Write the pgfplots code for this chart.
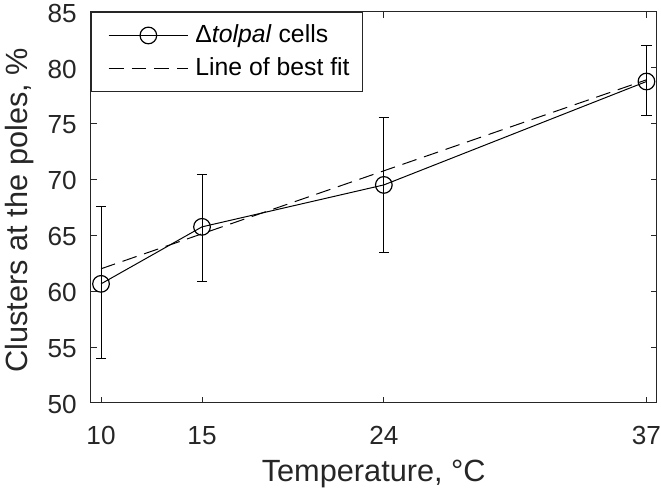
\documentclass[border=0pt]{standalone}
\usepackage{fontspec}
\setmainfont{Liberation Sans}
\usepackage{pgfplots}
\usepackage{pgfplotstable}
\pgfplotsset{compat=1.18}
\definecolor{axgray}{HTML}{262626}
\pgfplotstableread{
x  y      ep    em
10 60.65  6.95  6.70
15 65.75  4.70  4.85
24 69.50  6.05  6.00
37 78.75  3.25  3.05
}\cells
\pgfplotstableread{
x  y
10 62.0
37 78.9
}\fit
\begin{document}
\begin{tikzpicture}
\begin{axis}[
  scale only axis, width=285.5pt, height=197.5pt,
  xmin=9.5, xmax=37.5, ymin=50, ymax=85,
  xtick={10,15,24,37}, ytick={50,55,...,85},
  tick align=inside, major tick length=3pt,
  axis line style={axgray, line width=0.5pt},
  every tick/.style={axgray, line width=0.5pt},
  tick label style={font=\fontsize{13.2}{15}\selectfont, text=axgray, inner sep=0pt},
  /pgf/number format/assume math mode=true,
  xticklabel style={yshift=-11.5pt},
  yticklabel style={xshift=-7pt, inner ysep=2pt, yshift=-0.8pt},
  xlabel={Temperature, °C}, ylabel={Clusters at the poles, \%},
  label style={font=\fontsize{15.5}{18}\selectfont, text=axgray, inner sep=0pt},
  xlabel style={at={(axis description cs:0.5,-0.2)}, anchor=base},
  ylabel style={at={(axis description cs:-0.0919,0.505)}, anchor=south, inner ysep=2.5pt, xshift=-2.5pt},
  legend cell align=left,
  legend image code/.code={\path (-4pt,0pt) (41.5pt,0pt); \draw[mark repeat=2,mark phase=2,#1] plot coordinates {(0pt,0pt) (20pt,0pt) (40pt,0pt)};},
  legend style={at={(0,1)}, anchor=north west, draw=axgray, line width=0.5pt,
    font=\fontsize{12.5}{15}\selectfont, text=black, inner xsep=4.5pt, inner ysep=4.5pt, row sep=2pt},
]
\addplot[black, line width=0.5pt, mark=o, mark size=4.2pt, mark options={solid, line width=0.6pt},
  error bars/.cd, y dir=both, y explicit,
  error bar style={line width=0.5pt, solid},
  error mark options={rotate=90, mark size=2.6pt, line width=0.5pt}]
  table[x=x, y=y, y error plus=ep, y error minus=em] {\cells};
\addlegendentry{Δ\textit{tolpal} cells}
\addplot[black, line width=0.5pt, dash pattern=on 7.5pt off 4pt] table[x=x, y=y] {\fit};
\addlegendentry{Line of best fit}
\end{axis}
\end{tikzpicture}
\end{document}
